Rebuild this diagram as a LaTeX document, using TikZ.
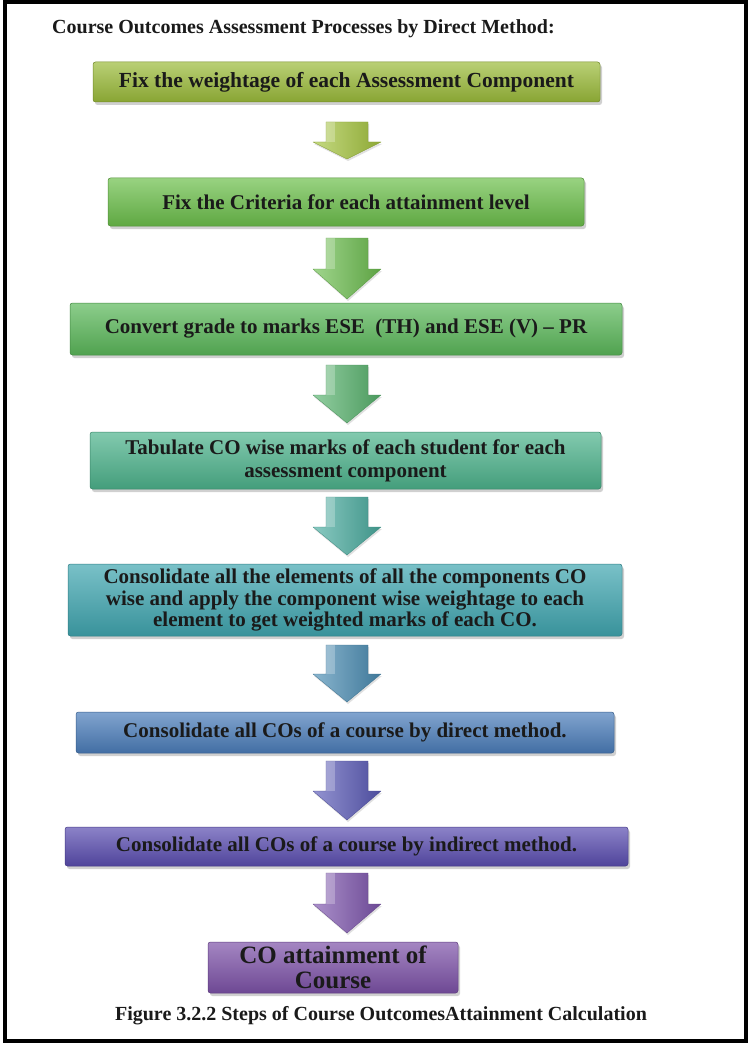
\documentclass[tikz,border=0pt]{standalone}
\usepackage{fontspec}
\setmainfont{Liberation Serif}
\usetikzlibrary{shadows}
\definecolor{c1}{HTML}{9BBB3A}
\definecolor{c2}{HTML}{6CBF4B}
\definecolor{c3}{HTML}{5BB85A}
\definecolor{c4}{HTML}{4DB38C}
\definecolor{c5}{HTML}{40A6B0}
\definecolor{c6}{HTML}{4B7DBA}
\definecolor{c7}{HTML}{5A4DB0}
\definecolor{c8}{HTML}{7D52A8}
\definecolor{a1}{HTML}{A6C63E}
\definecolor{a2}{HTML}{6DBF4F}
\definecolor{a3}{HTML}{58B46E}
\definecolor{a4}{HTML}{4AADA0}
\definecolor{a5}{HTML}{4A8DB4}
\definecolor{a6}{HTML}{5A5AB8}
\definecolor{a7}{HTML}{7E55AE}
\definecolor{inkc}{HTML}{1A1A1A}
% block arrow: name, colour, centre x, top y, head start (rel), tip (rel)
\newcommand{\blkarrow}[6]{%
  \coordinate (#1) at (#3,#4);
  \begin{scope}[shift={(#1)}]
    \path[arrowfill=#2] (-21,0) -- (21,0) -- (21,#5) -- (34,#5) -- (0,#6)
      -- (-34,#5) -- (-21,#5) -- cycle;
    \fill[white, opacity=0.25] (-21,0) -- (-12,0) -- (-12,#5) -- (-21,#5) -- cycle;
  \end{scope}}
\begin{document}
\begin{tikzpicture}[x=1pt,y=-1pt,
  stepbox/.style={draw=#1!75!black, line width=0.5pt, rounded corners=2.5pt,
    top color=#1!70!white, bottom color=#1!88!black,
    drop shadow={shadow xshift=2pt, shadow yshift=-3pt, opacity=0.3, fill=black!60},
    align=center, text=inkc, inner sep=0pt,
    font=\bfseries\fontsize{21}{22}\selectfont},
  arrowfill/.style={draw=#1!80!black, line width=0.3pt, line join=round,
    left color=#1!65!white, right color=#1!85!black,
    drop shadow={shadow xshift=1pt, shadow yshift=-2pt, opacity=0.2, fill=black!60}},
  titletext/.style={font=\bfseries\fontsize{20}{22}\selectfont, text=inkc, inner sep=0pt}
]
\useasboundingbox (0,0) rectangle (748,1043);
\fill[white] (0,0) rectangle (748,1043);
\draw[line width=4pt] (5,2.5) rectangle (746,1041);

\node[titletext, anchor=west] (title) at (52,28.5) {Course Outcomes Assessment Processes by Direct Method:};

\node[stepbox=c1, minimum width=507pt, minimum height=40pt, font=\bfseries\fontsize{21.5}{23}\selectfont] (b1) at (346.5,82) {Fix the weightage of each Assessment Component};
\node[stepbox=c2, minimum width=476pt, minimum height=48pt] (b2) at (346,202) {Fix the Criteria for each attainment level};
\node[stepbox=c3, minimum width=552pt, minimum height=52pt] (b3) at (346,329) {Convert grade to marks ESE~ (TH) and ESE (V) -- PR};
\node[stepbox=c4, minimum width=511pt, minimum height=57pt, font=\bfseries\fontsize{21}{23}\selectfont] (b4) at (345.5,460.5) {Tabulate CO wise marks of each student for each\\assessment component};
\node[stepbox=c5, minimum width=554pt, minimum height=72pt, font=\bfseries\fontsize{21}{21.5}\selectfont] (b5) at (345,600) {Consolidate all the elements of all the components CO\\wise and apply the component wise weightage to each\\element to get weighted marks of each CO.};
\node[stepbox=c6, minimum width=538pt, minimum height=41pt] (b6) at (345,732.5) {Consolidate all COs of a course by direct method.};
\node[stepbox=c7, minimum width=563pt, minimum height=39pt] (b7) at (346.5,846.5) {Consolidate all COs of a course by indirect method.};
\node[stepbox=c8, minimum width=250pt, minimum height=51pt, font=\bfseries\fontsize{25}{25}\selectfont] (b8) at (333,967.5) {CO attainment of\\Course};

\blkarrow{r1}{a1}{347}{122}{20}{37}
\blkarrow{r2}{a2}{347}{238}{31}{61}
\blkarrow{r3}{a3}{347}{365}{30}{58}
\blkarrow{r4}{a4}{347}{497}{30}{58}
\blkarrow{r5}{a5}{347}{645}{29}{57}
\blkarrow{r6}{a6}{347}{761}{30}{59}
\blkarrow{r7}{a7}{347}{873}{31}{60}

\node[titletext] (caption) at (381,1016) {Figure 3.2.2 Steps of Course OutcomesAttainment Calculation};
\end{tikzpicture}
\end{document}
